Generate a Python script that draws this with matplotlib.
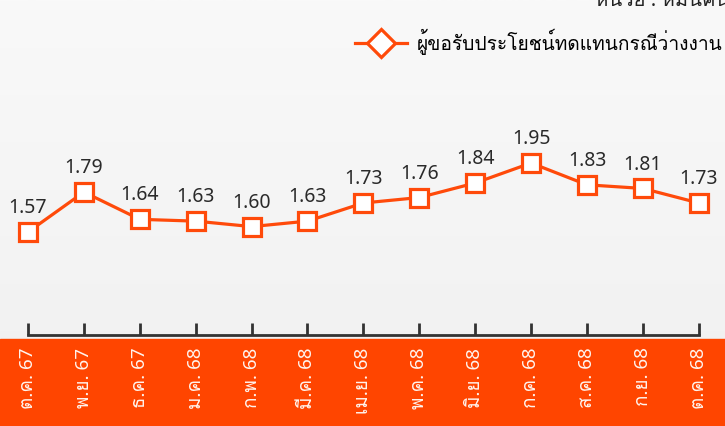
import numpy as np
import matplotlib
matplotlib.use('Agg')
import matplotlib.pyplot as plt
from matplotlib import font_manager
from matplotlib.patches import Rectangle

# Data: unemployment benefit claimants (unit shown top right)
months = ['ต.ค. 67', 'พ.ย. 67', 'ธ.ค. 67', 'ม.ค. 68', 'ก.พ. 68', 'มี.ค. 68', 'เม.ย. 68',
          'พ.ค. 68', 'มิ.ย. 68', 'ก.ค. 68', 'ส.ค. 68', 'ก.ย. 68', 'ต.ค. 68']
claimants = [1.57, 1.79, 1.64, 1.63, 1.60, 1.63, 1.73, 1.76, 1.84, 1.95, 1.83, 1.81, 1.73]
series_name = 'ผู้ขอรับประโยชน์ทดแทนกรณีว่างงาน'
unit_text = 'หน่วย : หมื่นคน'

ORANGE = '#FF4A0A'
BAND = '#FF4500'

# look for an installed font that has Thai glyphs
thai_fams = []
try:
    from fontTools.ttLib import TTFont
    for f in font_manager.fontManager.ttflist:
        if f.name in thai_fams:
            continue
        try:
            tt = TTFont(f.fname, fontNumber=0, lazy=True)
            if 0x0E01 in tt.getBestCmap():
                thai_fams.append(f.name)
        except Exception:
            pass
except Exception:
    pass
thai = thai_fams[:1]
plt.rcParams['font.family'] = ['Noto Sans'] + thai + ['DejaVu Sans']

W, H = 725, 426
fig = plt.figure(figsize=(W / 100, H / 100), dpi=100)

# background gradient
bg = fig.add_axes([0, 0, 1, 1], zorder=-10)
grad = np.linspace(0, 1, 256).reshape(-1, 1)
bg.imshow(grad, aspect='auto', cmap=matplotlib.colors.LinearSegmentedColormap.from_list(
    'g', ['#f9f9f9', '#f0f0f0']), extent=[0, 1, 0, 1])
bg.axis('off')

# orange band at the bottom
fig.patches.append(Rectangle((0, 0), 1, (H - 339) / H, transform=fig.transFigure,
                             color=BAND, zorder=-5))

ax = fig.add_axes([0, (H - 335) / H, 1, 335 / H])
ax.patch.set_alpha(0)
x = np.arange(len(months))
ax.plot(x, claimants, color=ORANGE, lw=2.3, marker='s', ms=12.5, mfc='white',
        mec=ORANGE, mew=2.3, clip_on=False, zorder=3)
for xi, v in zip(x, claimants):
    ax.annotate(f'{v:.2f}', (xi, v), xytext=(0, 10), textcoords='offset points',
                ha='center', va='bottom', fontsize=14, color='#2a2a2a')

ax.set_xlim(-28 / 55.9, (W - 28) / 55.9)
ax.set_ylim(1.003, 1.003 + 335 / 181.6)
for s in ['top', 'right', 'left']:
    ax.spines[s].set_visible(False)
ax.spines['bottom'].set_bounds(0, len(months) - 1)
ax.spines['bottom'].set_color('#333333')
ax.spines['bottom'].set_linewidth(2)
ax.set_yticks([])
ax.set_xticks(x)
ax.set_xticklabels(months, rotation=90, color='#fff4ee', fontsize=13.5)
ax.tick_params(axis='x', direction='in', length=9, width=2, color='#333333', pad=9)

# legend, anchored by its left edge
fs = 13.8
em = fs * 100 / 72
leg = fig.legend([ax.lines[0]], [series_name], loc='upper left', frameon=False, fontsize=fs,
                 bbox_to_anchor=((355 - 0.9 * em) / W, 1 - (40 - 0.9 * em - 0.6 * em) / H),
                 handlelength=52 / em, handletextpad=10 / em)
h = leg.legend_handles[0]
h.set_marker('D')
h.set_markersize(14.5)

fig.text(595 / W, 1 - 6 / H, unit_text, fontsize=14.5, color='#222222', va='baseline')

fig.savefig('out.png', dpi=100)
